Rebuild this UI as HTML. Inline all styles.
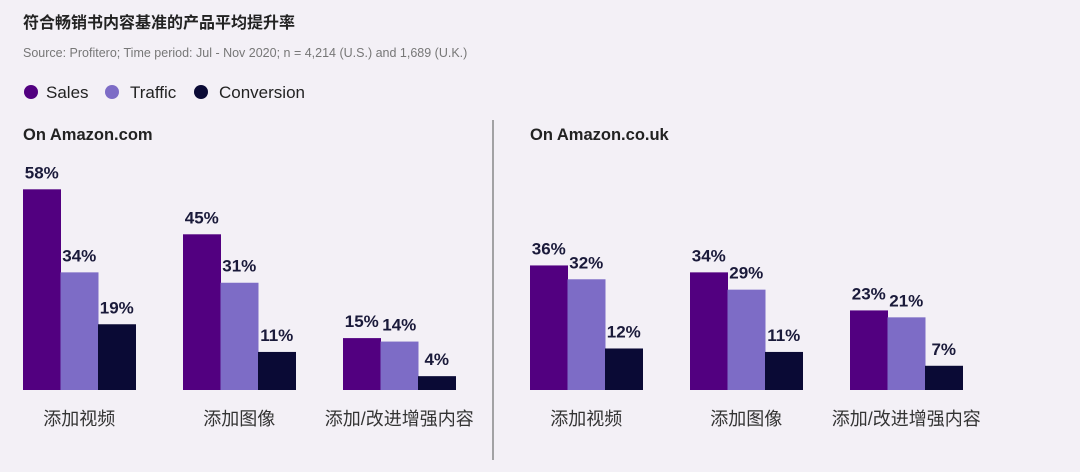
<!DOCTYPE html>
<html><head><meta charset="utf-8"><style>
body{margin:0;background:#f3f0f6;font-family:"Liberation Sans","Noto Sans CJK SC",sans-serif;}
#wrap{position:relative;width:1080px;height:472px;overflow:hidden;background:#f3f0f6;}
</style></head><body>
<div id="wrap">
<svg id="svg" width="1080" height="472">
<text x="23" y="28" font-size="16" font-weight="bold" fill="#222" font-family="Liberation Sans,Noto Sans CJK SC,sans-serif">符合畅销书内容基准的产品平均提升率</text>
<text x="23" y="57" font-size="12.5" fill="#777">Source: Profitero; Time period: Jul - Nov 2020; n = 4,214 (U.S.) and 1,689 (U.K.)</text>
<g>
<circle cx="31" cy="92" r="7" fill="#520080"/>
<text x="46" y="98" font-size="17" fill="#222">Sales</text>
<circle cx="112" cy="92" r="7" fill="#7d6cc6"/>
<text x="130" y="98" font-size="17" fill="#222">Traffic</text>
<circle cx="201" cy="92" r="7" fill="#0a0a35"/>
<text x="219" y="98" font-size="17" fill="#222">Conversion</text>
</g>
<text x="23" y="140" font-size="16.5" font-weight="bold" fill="#222">On Amazon.com</text>
<text x="530" y="140" font-size="16.5" font-weight="bold" fill="#222">On Amazon.co.uk</text>
<line x1="493" y1="120" x2="493" y2="460" stroke="#888" stroke-width="1.5"/>
<g id="bars"></g>
</svg>
</div>
<script>
const categories=["添加视频","添加图像","添加/改进增强内容"];
const usSales=[58,45,15];
const usTraffic=[34,31,14];
const usConversion=[19,11,4];
const ukSales=[36,34,23];
const ukTraffic=[32,29,21];
const ukConversion=[12,11,7];
const colors=["#520080","#7d6cc6","#0a0a35"];
const baseY=390, pxPer=3.46, barW=37.5, groupStep=160;
function y(v){return baseY-v*pxPer;}
const g=document.getElementById('bars');
const NS="http://www.w3.org/2000/svg";
function panel(x0,data){
  categories.forEach((c,i)=>{
    const gx=x0+i*groupStep;
    data.forEach((s,j)=>{
      const v=s[i];
      const r=document.createElementNS(NS,'rect');
      r.setAttribute('x',gx+j*barW);r.setAttribute('y',y(v));
      r.setAttribute('width',barW+0.5);r.setAttribute('height',v*pxPer);
      r.setAttribute('fill',colors[j]);
      
      
      g.appendChild(r);
      const t=document.createElementNS(NS,'text');
      t.setAttribute('x',gx+j*barW+barW/2);t.setAttribute('y',y(v)-11);
      t.setAttribute('text-anchor','middle');t.setAttribute('font-size','17');
      t.setAttribute('font-weight','bold');t.setAttribute('fill','#1a1a3a');
      t.textContent=v+'%';
      
      
      g.appendChild(t);
    });
    const l=document.createElementNS(NS,'text');
    l.setAttribute('x',gx+barW*1.5);l.setAttribute('y',425);
    l.setAttribute('text-anchor','middle');l.setAttribute('font-size','18');
    l.setAttribute('fill','#333');
    l.textContent=c;
    
    
    g.appendChild(l);
  });
}
panel(23,[usSales,usTraffic,usConversion]);
panel(530,[ukSales,ukTraffic,ukConversion]);
</script>
</body></html>
